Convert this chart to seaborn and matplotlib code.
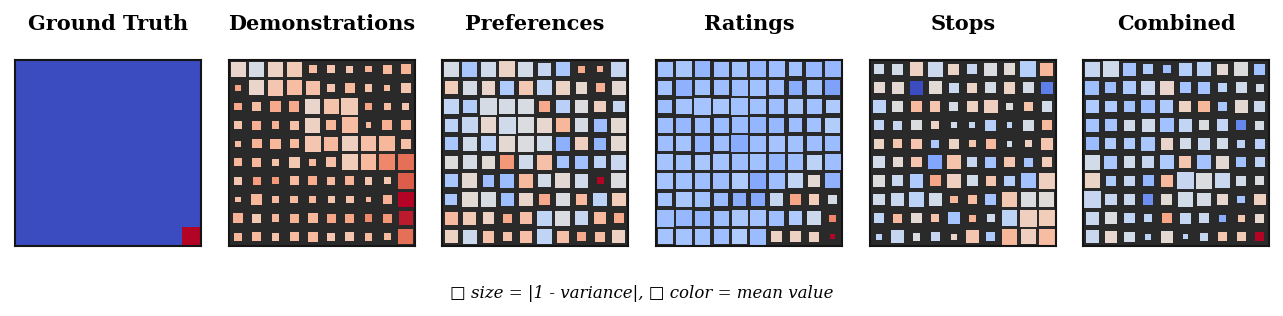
import matplotlib

matplotlib.use("Agg")

import matplotlib.pyplot as plt
import numpy as np
import pandas as pd
import seaborn as sns

# panel titles, in drawing order
titles = ["Ground Truth", "Demonstrations", "Preferences", "Ratings", "Stops", "Combined"]

# colour = mean value (coolwarm, 0..1), size = |1 - variance| (fraction of cell side)
truth_mean = [[0.0] * 10 for _ in range(9)] + [[0.0] * 9 + [1.0]]
truth_size = [[1.0] * 10 for _ in range(10)]

demo_mean = [
    [0.55, 0.47, 0.57, 0.60, 0.65, 0.62, 0.62, 0.68, 0.67, 0.68],
    [0.72, 0.55, 0.62, 0.65, 0.64, 0.62, 0.66, 0.63, 0.66, 0.62],
    [0.71, 0.65, 0.71, 0.71, 0.55, 0.63, 0.60, 0.72, 0.65, 0.62],
    [0.63, 0.69, 0.68, 0.64, 0.57, 0.67, 0.65, 0.66, 0.69, 0.67],
    [0.65, 0.68, 0.67, 0.66, 0.62, 0.66, 0.58, 0.64, 0.67, 0.64],
    [0.67, 0.67, 0.63, 0.61, 0.66, 0.64, 0.59, 0.66, 0.79, 0.84],
    [0.62, 0.74, 0.75, 0.66, 0.70, 0.66, 0.68, 0.62, 0.62, 0.88],
    [0.64, 0.67, 0.66, 0.66, 0.67, 0.62, 0.63, 0.66, 0.69, 1.00],
    [0.68, 0.61, 0.67, 0.68, 0.67, 0.72, 0.72, 0.79, 0.76, 0.98],
    [0.67, 0.66, 0.63, 0.66, 0.66, 0.62, 0.62, 0.66, 0.66, 0.84],
]
demo_size = [
    [0.79, 0.80, 0.79, 0.80, 0.41, 0.43, 0.38, 0.33, 0.48, 0.54],
    [0.32, 0.80, 0.84, 0.80, 0.77, 0.43, 0.50, 0.43, 0.36, 0.54],
    [0.43, 0.48, 0.54, 0.54, 0.80, 0.80, 0.91, 0.43, 0.38, 0.38],
    [0.43, 0.48, 0.43, 0.48, 0.80, 0.54, 0.82, 0.32, 0.50, 0.52],
    [0.32, 0.50, 0.54, 0.48, 0.86, 0.77, 0.82, 0.80, 0.82, 0.52],
    [0.43, 0.48, 0.38, 0.60, 0.38, 0.54, 0.88, 0.86, 0.84, 0.86],
    [0.43, 0.45, 0.38, 0.48, 0.48, 0.43, 0.48, 0.43, 0.38, 0.86],
    [0.32, 0.59, 0.43, 0.39, 0.39, 0.38, 0.39, 0.32, 0.48, 0.86],
    [0.54, 0.48, 0.43, 0.48, 0.54, 0.48, 0.48, 0.43, 0.48, 0.75],
    [0.43, 0.48, 0.43, 0.48, 0.54, 0.43, 0.48, 0.43, 0.38, 0.80],
]

pref_mean = [
    [0.47, 0.33, 0.45, 0.56, 0.46, 0.42, 0.33, 0.71, 0.69, 0.42],
    [0.59, 0.47, 0.55, 0.35, 0.61, 0.40, 0.56, 0.54, 0.69, 0.53],
    [0.41, 0.36, 0.47, 0.47, 0.48, 0.71, 0.38, 0.49, 0.58, 0.42],
    [0.39, 0.42, 0.54, 0.45, 0.49, 0.54, 0.67, 0.47, 0.30, 0.53],
    [0.33, 0.45, 0.39, 0.53, 0.49, 0.46, 0.25, 0.58, 0.27, 0.53],
    [0.50, 0.47, 0.52, 0.75, 0.45, 0.64, 0.32, 0.31, 0.39, 0.43],
    [0.33, 0.53, 0.30, 0.29, 0.66, 0.46, 0.53, 0.45, 1.00, 0.49],
    [0.33, 0.52, 0.48, 0.30, 0.55, 0.71, 0.49, 0.66, 0.39, 0.59],
    [0.66, 0.60, 0.57, 0.71, 0.64, 0.40, 0.49, 0.42, 0.66, 0.71],
    [0.57, 0.44, 0.63, 0.63, 0.64, 0.40, 0.64, 0.71, 0.65, 0.57],
]
pref_size = [
    [0.80, 0.80, 0.82, 0.86, 0.80, 0.70, 0.75, 0.38, 0.32, 0.80],
    [0.70, 0.75, 0.75, 0.75, 0.75, 0.80, 0.75, 0.64, 0.48, 0.75],
    [0.80, 0.75, 0.91, 0.86, 0.86, 0.59, 0.75, 0.75, 0.64, 0.64],
    [0.70, 0.86, 0.86, 0.91, 0.86, 0.80, 0.75, 0.72, 0.70, 0.80],
    [0.70, 0.75, 0.80, 0.86, 0.86, 0.80, 0.75, 0.70, 0.64, 0.80],
    [0.70, 0.75, 0.70, 0.75, 0.75, 0.80, 0.64, 0.70, 0.64, 0.80],
    [0.70, 0.80, 0.64, 0.75, 0.75, 0.70, 0.80, 0.75, 0.38, 0.80],
    [0.64, 0.86, 0.80, 0.70, 0.75, 0.59, 0.75, 0.64, 0.75, 0.75],
    [0.70, 0.70, 0.64, 0.48, 0.64, 0.80, 0.80, 0.75, 0.64, 0.54],
    [0.70, 0.75, 0.64, 0.48, 0.64, 0.80, 0.64, 0.48, 0.54, 0.70],
]

rating_mean = [
    [0.31, 0.33, 0.27, 0.30, 0.31, 0.28, 0.30, 0.31, 0.28, 0.28],
    [0.32, 0.26, 0.31, 0.30, 0.30, 0.31, 0.30, 0.24, 0.31, 0.21],
    [0.30, 0.32, 0.32, 0.33, 0.31, 0.31, 0.30, 0.33, 0.31, 0.35],
    [0.30, 0.28, 0.30, 0.29, 0.29, 0.27, 0.28, 0.30, 0.31, 0.36],
    [0.30, 0.32, 0.27, 0.30, 0.24, 0.30, 0.32, 0.31, 0.30, 0.29],
    [0.32, 0.31, 0.33, 0.32, 0.30, 0.31, 0.27, 0.30, 0.39, 0.30],
    [0.32, 0.31, 0.30, 0.30, 0.35, 0.23, 0.30, 0.41, 0.53, 0.26],
    [0.32, 0.33, 0.31, 0.29, 0.24, 0.23, 0.42, 0.72, 0.59, 0.47],
    [0.30, 0.28, 0.27, 0.30, 0.33, 0.32, 0.30, 0.35, 0.44, 0.80],
    [0.32, 0.32, 0.31, 0.30, 0.35, 0.29, 0.57, 0.57, 0.57, 1.00],
]
rating_size = [
    [0.80, 0.86, 0.86, 0.80, 0.80, 0.86, 0.86, 0.75, 0.82, 0.86],
    [0.75, 0.86, 0.80, 0.80, 0.86, 0.86, 0.80, 0.75, 0.80, 0.80],
    [0.75, 0.86, 0.91, 0.86, 0.91, 0.86, 0.80, 0.86, 0.80, 0.75],
    [0.80, 0.80, 0.80, 0.80, 0.86, 0.86, 0.80, 0.75, 0.75, 0.80],
    [0.80, 0.80, 0.86, 0.80, 0.91, 0.86, 0.86, 0.86, 0.80, 0.80],
    [0.86, 0.80, 0.80, 0.86, 0.86, 0.86, 0.86, 0.86, 0.80, 0.86],
    [0.86, 0.86, 0.86, 0.86, 0.86, 0.86, 0.86, 0.80, 0.64, 0.80],
    [0.75, 0.86, 0.80, 0.75, 0.70, 0.75, 0.70, 0.54, 0.54, 0.48],
    [0.91, 0.86, 0.80, 0.80, 0.86, 0.86, 0.80, 0.75, 0.75, 0.38],
    [0.80, 0.86, 0.86, 0.80, 0.80, 0.86, 0.59, 0.59, 0.54, 0.27],
]

stop_mean = [
    [0.45, 0.46, 0.57, 0.44, 0.56, 0.42, 0.49, 0.52, 0.37, 0.67],
    [0.53, 0.53, 0.00, 0.52, 0.43, 0.56, 0.47, 0.56, 0.47, 0.12],
    [0.39, 0.50, 0.66, 0.62, 0.47, 0.57, 0.58, 0.50, 0.63, 0.46],
    [0.41, 0.42, 0.49, 0.56, 0.46, 0.42, 0.37, 0.40, 0.47, 0.66],
    [0.56, 0.62, 0.62, 0.33, 0.56, 0.62, 0.66, 0.45, 0.57, 0.62],
    [0.46, 0.53, 0.62, 0.22, 0.63, 0.42, 0.32, 0.62, 0.32, 0.59],
    [0.50, 0.43, 0.35, 0.72, 0.58, 0.46, 0.62, 0.37, 0.31, 0.58],
    [0.45, 0.43, 0.39, 0.46, 0.67, 0.65, 0.32, 0.61, 0.49, 0.51],
    [0.40, 0.66, 0.53, 0.63, 0.32, 0.68, 0.45, 0.39, 0.58, 0.59],
    [0.39, 0.42, 0.49, 0.42, 0.55, 0.62, 0.35, 0.67, 0.58, 0.65],
]
stop_size = [
    [0.54, 0.59, 0.75, 0.80, 0.59, 0.54, 0.70, 0.64, 0.86, 0.70],
    [0.59, 0.64, 0.75, 0.70, 0.54, 0.54, 0.59, 0.64, 0.59, 0.64],
    [0.70, 0.59, 0.64, 0.54, 0.48, 0.59, 0.75, 0.43, 0.48, 0.54],
    [0.54, 0.48, 0.54, 0.43, 0.32, 0.32, 0.59, 0.32, 0.59, 0.54],
    [0.54, 0.48, 0.54, 0.43, 0.54, 0.38, 0.54, 0.32, 0.38, 0.64],
    [0.64, 0.54, 0.54, 0.75, 0.75, 0.54, 0.59, 0.54, 0.48, 0.54],
    [0.64, 0.59, 0.75, 0.59, 0.75, 0.59, 0.54, 0.54, 0.80, 0.86],
    [0.64, 0.70, 0.86, 0.70, 0.43, 0.48, 0.59, 0.86, 0.80, 0.80],
    [0.54, 0.48, 0.54, 0.43, 0.64, 0.38, 0.43, 0.86, 0.91, 0.86],
    [0.32, 0.70, 0.43, 0.48, 0.32, 0.70, 0.48, 0.86, 0.80, 0.86],
]

combo_mean = [
    [0.42, 0.45, 0.32, 0.35, 0.30, 0.37, 0.39, 0.53, 0.50, 0.31],
    [0.30, 0.30, 0.34, 0.43, 0.55, 0.32, 0.32, 0.39, 0.45, 0.46],
    [0.35, 0.35, 0.31, 0.30, 0.35, 0.57, 0.67, 0.33, 0.53, 0.44],
    [0.32, 0.32, 0.45, 0.45, 0.31, 0.41, 0.49, 0.41, 0.14, 0.47],
    [0.29, 0.35, 0.35, 0.33, 0.55, 0.46, 0.43, 0.46, 0.39, 0.38],
    [0.46, 0.33, 0.45, 0.42, 0.35, 0.62, 0.32, 0.53, 0.31, 0.39],
    [0.56, 0.35, 0.42, 0.27, 0.66, 0.42, 0.49, 0.43, 0.46, 0.49],
    [0.42, 0.42, 0.43, 0.16, 0.52, 0.46, 0.47, 0.54, 0.32, 0.58],
    [0.43, 0.49, 0.40, 0.39, 0.72, 0.42, 0.43, 0.24, 0.62, 0.54],
    [0.43, 0.54, 0.46, 0.39, 0.53, 0.39, 0.42, 0.62, 0.60, 1.00],
]
combo_size = [
    [0.80, 0.86, 0.70, 0.54, 0.43, 0.70, 0.75, 0.59, 0.75, 0.59],
    [0.75, 0.59, 0.70, 0.75, 0.75, 0.59, 0.64, 0.48, 0.59, 0.43],
    [0.70, 0.64, 0.59, 0.75, 0.70, 0.64, 0.64, 0.48, 0.70, 0.59],
    [0.70, 0.64, 0.59, 0.70, 0.75, 0.70, 0.54, 0.64, 0.54, 0.48],
    [0.70, 0.59, 0.59, 0.75, 0.64, 0.59, 0.64, 0.59, 0.43, 0.54],
    [0.80, 0.70, 0.64, 0.64, 0.75, 0.64, 0.75, 0.70, 0.54, 0.54],
    [0.80, 0.54, 0.54, 0.59, 0.64, 0.91, 0.86, 0.80, 0.54, 0.48],
    [0.91, 0.64, 0.59, 0.54, 0.59, 0.80, 0.75, 0.59, 0.43, 0.64],
    [0.70, 0.64, 0.54, 0.43, 0.54, 0.59, 0.54, 0.38, 0.38, 0.48],
    [0.70, 0.64, 0.54, 0.32, 0.64, 0.27, 0.43, 0.48, 0.48, 0.48],
]

panels = [
    (truth_mean, truth_size),
    (demo_mean, demo_size),
    (pref_mean, pref_size),
    (rating_mean, rating_size),
    (stop_mean, stop_size),
    (combo_mean, combo_size),
]

W, H, DPI = 12.83, 3.16, 100
fig = plt.figure(figsize=(W, H), dpi=DPI)
sns.set_style("white")

ax_w = 186 / 1283
ax_h = 186 / 316
lefts = [15, 229, 442, 656, 870, 1083]
cell_pt = ax_w * W * 72 / 10

for left, title, (mean, size) in zip(lefts, titles, panels):
    ax = fig.add_axes([left / 1283, 1 - 246 / 316, ax_w, ax_h])
    rows, cols = np.indices((10, 10))
    df = pd.DataFrame({
        "col": cols.ravel(),
        "row": rows.ravel(),
        "mean": np.ravel(mean),
        "area": np.ravel(size) ** 2,
    })
    sns.scatterplot(
        data=df, x="col", y="row", hue="mean", size="area",
        palette="coolwarm", hue_norm=(0, 1),
        sizes=(0, cell_pt ** 2), size_norm=(0, 1),
        marker="s", linewidth=0, legend=False, ax=ax,
    )
    ax.set_facecolor("#2a2a2a")
    ax.set_xlim(-0.5, 9.5)
    ax.set_ylim(9.5, -0.5)
    ax.set_xticks([])
    ax.set_yticks([])
    ax.set_xlabel("")
    ax.set_ylabel("")
    for sp in ax.spines.values():
        sp.set_visible(True)
        sp.set_color("#151515")
        sp.set_linewidth(1.5)
    fig.text((left + 93) / 1283, 1 - 24 / 316, title, ha="center", va="center",
             fontsize=15, fontweight="bold", family="DejaVu Serif", color="black")

fig.text(0.5, 1 - 293 / 316, "\u25a1 size = |1 - variance|, \u25a1 color = mean value",
         ha="center", va="center", fontsize=12, style="italic", color="black",
         family=["DejaVu Serif", "DejaVu Sans"])

fig.savefig("out.png", dpi=DPI)
